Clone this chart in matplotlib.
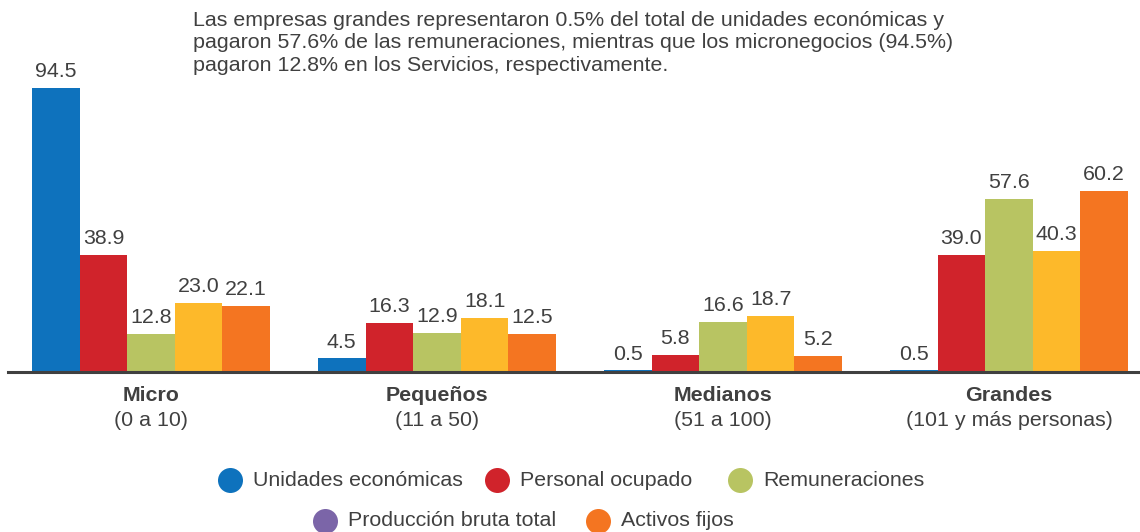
import matplotlib.pyplot as plt
import numpy as np
from matplotlib.lines import Line2D

plt.rcParams['font.family'] = ['Liberation Sans', 'DejaVu Sans']

# Data
groups = ['Micro', 'Pequeños', 'Medianos', 'Grandes']
group_ranges = ['(0 a 10)', '(11 a 50)', '(51 a 100)', '(101 y más personas)']
unidades = [94.5, 4.5, 0.5, 0.5]
personal = [38.9, 16.3, 5.8, 39.0]
remuneraciones = [12.8, 12.9, 16.6, 57.6]
produccion = [23.0, 18.1, 18.7, 40.3]
activos = [22.1, 12.5, 5.2, 60.2]

series = [unidades, personal, remuneraciones, produccion, activos]
bar_colors = ['#0e72bd', '#d0232b', '#b8c462', '#fdb92a', '#f47521']

legend_labels = ['Unidades económicas', 'Personal ocupado', 'Remuneraciones',
                 'Producción bruta total', 'Activos fijos']
legend_colors = ['#0e72bd', '#d0232b', '#b8c462', '#7b65a8', '#f47521']

note = ('Las empresas grandes representaron 0.5% del total de unidades económicas y\n'
        'pagaron 57.6% de las remuneraciones, mientras que los micronegocios (94.5%)\n'
        'pagaron 12.8% en los Servicios, respectivamente.')

text_color = '#404040'
fs = 15.4

fig = plt.figure(figsize=(11.4, 5.32), dpi=100)
ax = fig.add_axes([8 / 1140, 160 / 532, 1132 / 1140, 372 / 532])

x = np.arange(len(groups))
w = 0.1665
for i, (vals, c) in enumerate(zip(series, bar_colors)):
    pos = x + (i - 2) * w
    ax.bar(pos, vals, width=w, color=c, zorder=2)
    for p, v in zip(pos, vals):
        ax.annotate(f'{v:.1f}', (p, v), xytext=(0, 5), textcoords='offset points',
                    ha='center', va='bottom', fontsize=fs, color=text_color)

ax.set_xlim(-0.5, 3.458)
ax.set_ylim(0, 123.8)
for s in ['top', 'right', 'left']:
    ax.spines[s].set_visible(False)
ax.spines['bottom'].set_color('#404040')
ax.spines['bottom'].set_linewidth(2.2)
ax.set_yticks([])
ax.set_xticks([])

for xi, g, r in zip(x, groups, group_ranges):
    ax.annotate(g, (xi, 0), xytext=(0, -10), textcoords='offset points',
                ha='center', va='top', fontsize=fs, fontweight='bold', color=text_color)
    ax.annotate(r, (xi, 0), xytext=(0, -28), textcoords='offset points',
                ha='center', va='top', fontsize=fs, color=text_color)

fig.text(193 / 1140, 1 - 11 / 532, note, ha='left', va='top', fontsize=fs,
         color=text_color, linespacing=1.22)

# Legend (two rows, drawn by hand)
legend_pos = [(230, 480), (497, 480), (740, 480), (325, 521), (598, 521)]
for (px, py), lab, c in zip(legend_pos, legend_labels, legend_colors):
    fx, fy = px / 1140, 1 - py / 532
    fig.add_artist(Line2D([fx], [fy], marker='o', markersize=18, color=c,
                          markeredgewidth=0, transform=fig.transFigure))
    fig.text(fx + 23 / 1140, fy, lab, ha='left', va='center', fontsize=fs,
             color=text_color)

fig.savefig('out.png', dpi=100)
